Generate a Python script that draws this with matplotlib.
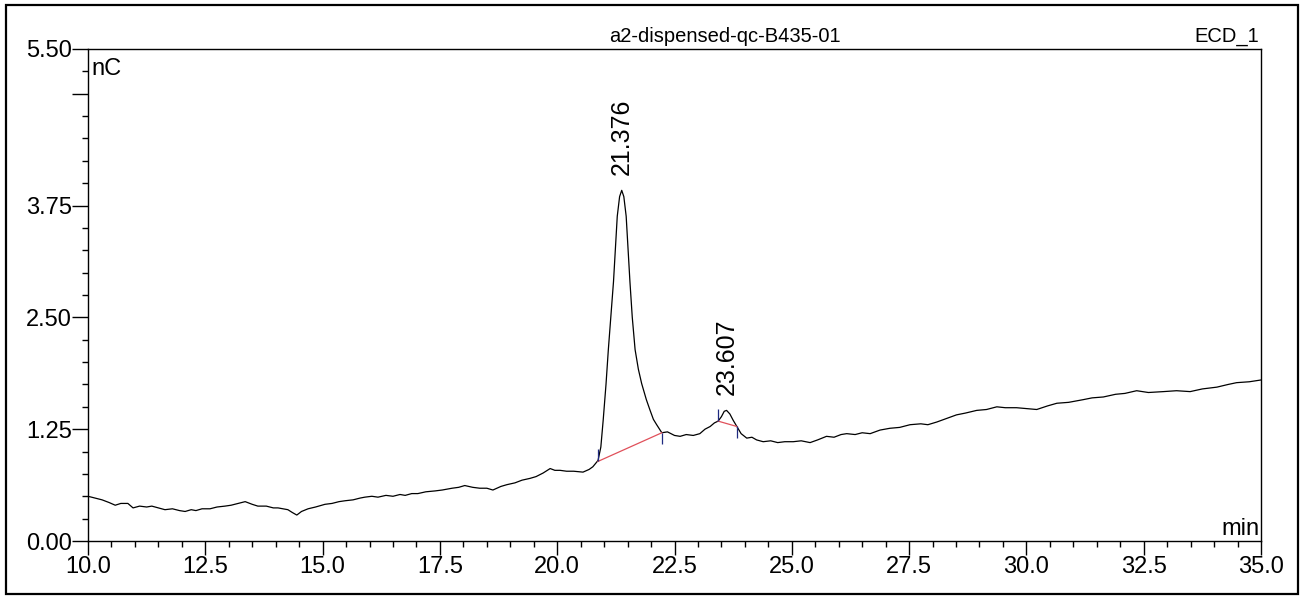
import matplotlib.pyplot as plt
from matplotlib.patches import Rectangle
from matplotlib.ticker import FixedLocator, MultipleLocator

plt.rcParams['font.family'] = ['Liberation Sans', 'DejaVu Sans']

time_min = [
    10.00, 10.15, 10.30, 10.45, 10.58, 10.70, 10.85, 10.96, 11.10, 11.25,
    11.36, 11.50, 11.64, 11.80, 11.95, 12.07, 12.20, 12.30, 12.43, 12.60,
    12.75, 12.92, 13.05, 13.20, 13.35, 13.50, 13.62, 13.80, 13.95, 14.05,
    14.15, 14.26, 14.35, 14.45, 14.55, 14.69, 14.85, 15.05, 15.20, 15.35,
    15.48, 15.65, 15.80, 15.90, 16.05, 16.18, 16.35, 16.50, 16.65, 16.76,
    16.90, 17.03, 17.20, 17.40, 17.55, 17.76, 17.90, 18.03, 18.20, 18.35,
    18.50, 18.63, 18.80, 18.93, 19.10, 19.25, 19.42, 19.55, 19.70, 19.85,
    19.95, 20.06, 20.20, 20.35, 20.55, 20.68, 20.76, 20.87, 20.93, 20.98,
    21.04, 21.09, 21.15, 21.20, 21.25, 21.28, 21.33, 21.375, 21.42, 21.47,
    21.51, 21.55, 21.60, 21.66, 21.73, 21.80, 21.90, 21.98, 22.05, 22.12,
    22.23, 22.35, 22.50, 22.62, 22.75, 22.90, 23.04, 23.15, 23.26, 23.35,
    23.43, 23.50, 23.56, 23.61, 23.68, 23.75, 23.83, 23.92, 24.04, 24.15,
    24.25, 24.39, 24.55, 24.70, 24.85, 25.03, 25.20, 25.39, 25.55, 25.74,
    25.90, 26.05, 26.17, 26.35, 26.50, 26.67, 26.88, 27.09, 27.30, 27.52,
    27.75, 27.90, 28.09, 28.30, 28.51, 28.70, 28.94, 29.15, 29.37, 29.55,
    29.79, 30.00, 30.22, 30.45, 30.65, 30.90, 31.21, 31.40, 31.64, 31.90,
    32.10, 32.35, 32.60, 32.92, 33.20, 33.49, 33.75, 34.06, 34.30, 34.48,
    34.75, 35.00,
]
signal_nc = [
    0.50, 0.48, 0.46, 0.43, 0.40, 0.42, 0.42, 0.37, 0.39, 0.38,
    0.39, 0.37, 0.35, 0.36, 0.34, 0.33, 0.35, 0.34, 0.36, 0.36,
    0.38, 0.39, 0.40, 0.42, 0.44, 0.41, 0.39, 0.39, 0.37, 0.37,
    0.36, 0.35, 0.32, 0.29, 0.33, 0.36, 0.38, 0.41, 0.42, 0.44,
    0.45, 0.46, 0.48, 0.49, 0.50, 0.49, 0.51, 0.50, 0.52, 0.51,
    0.53, 0.53, 0.55, 0.56, 0.57, 0.59, 0.60, 0.62, 0.60, 0.59,
    0.59, 0.57, 0.61, 0.63, 0.65, 0.68, 0.70, 0.72, 0.76, 0.81,
    0.79, 0.79, 0.78, 0.78, 0.77, 0.80, 0.83, 0.90, 1.05, 1.35,
    1.75, 2.14, 2.55, 2.90, 3.35, 3.63, 3.85, 3.92, 3.85, 3.63,
    3.27, 2.90, 2.50, 2.14, 1.92, 1.76, 1.58, 1.46, 1.36, 1.30,
    1.21, 1.22, 1.18, 1.17, 1.19, 1.18, 1.20, 1.25, 1.28, 1.32,
    1.34, 1.39, 1.45, 1.46, 1.42, 1.35, 1.28, 1.20, 1.15, 1.16,
    1.13, 1.11, 1.12, 1.10, 1.11, 1.11, 1.12, 1.10, 1.13, 1.17,
    1.16, 1.19, 1.20, 1.19, 1.21, 1.20, 1.24, 1.26, 1.27, 1.30,
    1.31, 1.30, 1.33, 1.37, 1.41, 1.43, 1.46, 1.47, 1.50, 1.49,
    1.49, 1.48, 1.47, 1.51, 1.54, 1.55, 1.58, 1.60, 1.61, 1.64,
    1.65, 1.68, 1.66, 1.67, 1.68, 1.67, 1.70, 1.72, 1.75, 1.77,
    1.78, 1.80,
]

# piki: czas retencji, wysokość, początek/koniec linii bazowej
peak_rt = [21.376, 23.607]
peak_top = [3.92, 1.46]
peak_start_t = [20.87, 23.43]
peak_start_v = [0.89, 1.34]
peak_end_t = [22.23, 23.83]
peak_end_v = [1.21, 1.28]

x_major = [10.0, 12.5, 15.0, 17.5, 20.0, 22.5, 25.0, 27.5, 30.0, 32.5, 35.0]
y_major = [0.0, 1.25, 2.5, 3.75, 5.0, 5.5]
y_labels = ['0.00', '1.25', '2.50', '3.75', '', '5.50']


def main():
    fig = plt.figure(figsize=(13.05, 5.99), dpi=100)
    ax = fig.add_axes([88 / 1305, 58 / 599, 1173 / 1305, 492 / 599])

    ax.plot(time_min, signal_nc, color='black', lw=0.9)

    # linie bazowe pików (czerwone) i znaczniki granic (niebieskie)
    for i in range(len(peak_rt)):
        ax.plot([peak_start_t[i], peak_end_t[i]], [peak_start_v[i], peak_end_v[i]],
                color='#e0505a', lw=0.9)
        ax.vlines(peak_start_t[i], peak_start_v[i], peak_start_v[i] + 0.14,
                  color='#1f2a80', lw=0.9)
        ax.vlines(peak_end_t[i], peak_end_v[i] - 0.13, peak_end_v[i],
                  color='#1f2a80', lw=0.9)
        ax.annotate(f"{peak_rt[i]:.3f}", xy=(peak_rt[i], peak_top[i]),
                    xytext=(0, 11), textcoords='offset points',
                    rotation=90, ha='center', va='bottom', fontsize=18)

    ax.set_xlim(10, 35)
    ax.set_ylim(0, 5.5)

    ax.xaxis.set_major_locator(FixedLocator(x_major))
    ax.xaxis.set_minor_locator(MultipleLocator(0.5))
    ax.set_xticklabels([f"{v:.1f}" for v in x_major])
    ax.yaxis.set_major_locator(FixedLocator(y_major))
    ax.yaxis.set_minor_locator(MultipleLocator(0.25))
    ax.set_yticklabels(y_labels)

    ax.tick_params(axis='x', which='major', length=10, width=1, labelsize=17, pad=1)
    ax.tick_params(axis='x', which='minor', length=4.5, width=1)
    ax.tick_params(axis='y', which='major', length=11.5, width=1, labelsize=17, pad=0)
    ax.tick_params(axis='y', which='minor', length=4.5, width=1)
    for s in ax.spines.values():
        s.set_linewidth(1)

    ax.text(0.003, 0.947, "nC", transform=ax.transAxes, fontsize=17, va='baseline')
    ax.text(0.999, 0.012, "min", transform=ax.transAxes, fontsize=17,
            ha='right', va='baseline')

    fig.text(725 / 1305, 1 - 42 / 599, "a2-dispensed-qc-B435-01",
             ha='center', va='baseline', fontsize=14.5)
    fig.text(1259 / 1305, 1 - 42 / 599, "ECD_1",
             ha='right', va='baseline', fontsize=14.5)

    # ramka wokół całego rysunku
    fig.patches.append(Rectangle((6 / 1305, 5 / 599), 1292 / 1305, 589 / 599,
                                 transform=fig.transFigure, fill=False,
                                 edgecolor='black', lw=1.6))

    fig.savefig("out.png", dpi=100)
    plt.close(fig)


if __name__ == "__main__":
    main()
